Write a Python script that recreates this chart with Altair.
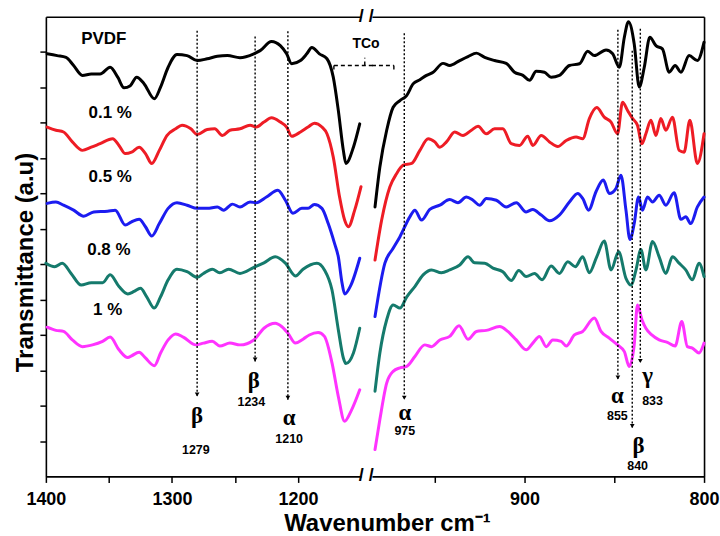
import altair as alt
import pandas as pd

# ---------------- data ----------------
series = ["PVDF", "0.1 %", "0.5 %", "0.8 %", "1 %"]
colors = ["#000000", "#ee1c25", "#1c1cf0", "#157a6c", "#ff33ff"]

# left segment (1400 - 1150 cm-1)
pvdf_l_wn = [1399, 1391, 1384, 1378, 1371, 1364, 1357, 1349, 1343, 1338, 1333, 1328, 1322, 1314, 1309, 1303, 1296, 1288, 1280, 1272, 1264, 1256, 1246, 1235, 1230, 1221, 1214, 1209, 1205, 1198, 1193, 1189, 1183, 1177, 1172, 1168, 1164, 1162, 1156, 1151]
pvdf_l_t = [11.95, 11.90, 11.85, 11.62, 11.34, 11.38, 11.38, 11.57, 11.29, 10.99, 11.05, 11.29, 11.10, 10.68, 11.01, 11.57, 11.93, 11.90, 11.76, 11.81, 11.88, 11.90, 11.84, 11.95, 12.04, 12.30, 12.18, 11.95, 11.67, 11.76, 11.95, 12.13, 11.95, 11.81, 11.29, 10.35, 9.22, 8.85, 9.31, 9.97]

p01_l_wn = [1399, 1392, 1386, 1379, 1371, 1364, 1357, 1347, 1342, 1337, 1332, 1326, 1321, 1316, 1310, 1304, 1297, 1292, 1285, 1280, 1272, 1266, 1260, 1254, 1246, 1238, 1233, 1227, 1221, 1214, 1209, 1205, 1198, 1192, 1187, 1181, 1177, 1172, 1167, 1163, 1160, 1155, 1150]
p01_l_t = [9.88, 9.79, 9.74, 9.46, 9.22, 9.31, 9.41, 9.55, 9.36, 9.13, 9.17, 9.31, 9.13, 8.85, 9.22, 9.64, 9.83, 9.93, 9.83, 9.67, 9.81, 9.83, 9.64, 9.79, 9.83, 9.93, 9.88, 10.02, 10.14, 10.02, 9.88, 9.62, 9.74, 9.88, 9.99, 9.88, 9.69, 9.03, 7.90, 7.25, 7.06, 7.53, 8.19]

p05_l_wn = [1399, 1392, 1386, 1378, 1370, 1362, 1351, 1345, 1337, 1332, 1326, 1321, 1316, 1310, 1303, 1296, 1288, 1280, 1272, 1264, 1259, 1252, 1246, 1238, 1233, 1225, 1216, 1210, 1204, 1197, 1192, 1187, 1181, 1176, 1171, 1168, 1165, 1163, 1158, 1151]
p05_l_t = [7.72, 7.76, 7.67, 7.53, 7.36, 7.48, 7.50, 7.53, 7.11, 7.20, 7.27, 7.06, 6.80, 7.15, 7.58, 7.74, 7.67, 7.58, 7.58, 7.62, 7.53, 7.70, 7.62, 7.76, 7.74, 7.90, 8.09, 7.81, 7.44, 7.58, 7.58, 7.69, 7.58, 7.15, 6.59, 6.21, 5.46, 5.16, 5.41, 6.17]

p08_l_wn = [1400, 1393, 1387, 1380, 1372, 1364, 1355, 1349, 1342, 1335, 1330, 1325, 1320, 1314, 1309, 1303, 1296, 1288, 1280, 1275, 1268, 1262, 1255, 1246, 1235, 1227, 1218, 1210, 1202, 1196, 1185, 1179, 1173, 1168, 1164, 1162, 1156, 1151]
p08_l_t = [6.03, 5.93, 6.03, 5.74, 5.41, 5.48, 5.48, 5.70, 5.37, 5.16, 5.23, 5.32, 5.08, 4.76, 5.08, 5.56, 5.86, 5.79, 5.63, 5.74, 5.86, 5.76, 5.86, 5.74, 5.91, 6.04, 6.21, 6.03, 5.67, 5.86, 6.03, 5.84, 5.27, 4.15, 3.35, 3.19, 3.49, 4.19]

p1_l_wn = [1399, 1392, 1386, 1379, 1371, 1363, 1355, 1349, 1342, 1335, 1332, 1326, 1321, 1314, 1309, 1303, 1297, 1291, 1281, 1275, 1268, 1262, 1254, 1246, 1235, 1227, 1218, 1213, 1208, 1202, 1196, 1191, 1184, 1179, 1173, 1168, 1163, 1158, 1151]
p1_l_t = [4.22, 4.13, 4.10, 3.86, 3.67, 3.72, 3.82, 3.94, 3.58, 3.36, 3.41, 3.51, 3.35, 3.13, 3.49, 3.86, 4.03, 3.94, 3.72, 3.77, 3.82, 3.69, 3.77, 3.72, 3.86, 4.19, 4.33, 4.24, 4.05, 3.77, 3.88, 4.00, 4.07, 3.96, 3.21, 2.26, 1.56, 1.84, 2.45]

# right segment (985 - 800 cm-1)
pvdf_r_wn = [983.3, 980.6, 976.8, 973.2, 969.4, 965.7, 962.1, 958.3, 954.6, 950.9, 945.4, 941.7, 936.1, 931.5, 926.8, 922.2, 916.7, 910.2, 905.6, 900.9, 897.2, 893.5, 888.9, 885.2, 880.6, 875.0, 869.4, 864.8, 861.1, 854.6, 850.9, 847.2, 844.4, 842.1, 838.9, 836.1, 833.3, 830.2, 826.8, 823.2, 819.4, 816.1, 812.9, 808.3, 803.7, 800.0]
pvdf_r_t = [7.62, 8.75, 9.79, 10.44, 10.63, 10.77, 11.10, 11.22, 11.34, 11.43, 11.68, 11.62, 11.76, 11.87, 11.97, 11.85, 11.76, 11.68, 11.43, 11.34, 11.20, 11.46, 11.43, 11.29, 11.34, 11.62, 11.67, 12.02, 11.90, 12.06, 11.95, 11.57, 12.42, 12.86, 12.23, 11.01, 11.57, 12.42, 12.18, 12.09, 11.43, 11.62, 11.43, 11.90, 11.76, 12.28]

p01_r_wn = [983.3, 979.6, 975.0, 971.3, 967.6, 962.9, 958.3, 953.7, 950.0, 947.2, 943.5, 938.9, 934.3, 929.6, 925.9, 921.3, 916.7, 912.1, 907.4, 902.8, 898.2, 895.4, 890.7, 886.1, 881.5, 876.8, 871.3, 867.6, 863.9, 859.8, 855.6, 851.8, 848.2, 845.4, 842.6, 839.8, 837.1, 834.6, 832.4, 829.6, 826.8, 824.1, 821.3, 817.6, 813.9, 811.1, 807.9, 803.7, 800.0]
p01_r_t = [6.12, 7.25, 8.19, 8.56, 8.80, 8.85, 9.22, 9.55, 9.46, 9.31, 9.46, 9.74, 9.64, 9.79, 9.90, 9.69, 9.83, 9.83, 9.41, 9.36, 9.62, 9.36, 9.64, 9.46, 9.33, 9.50, 9.60, 9.55, 10.12, 10.43, 10.16, 10.02, 9.69, 10.58, 10.35, 10.12, 9.93, 9.41, 9.69, 10.07, 9.64, 10.12, 9.79, 10.16, 9.22, 9.17, 10.07, 8.85, 9.69]

p05_r_wn = [983.3, 977.8, 973.2, 969.4, 963.9, 961.1, 957.4, 952.8, 947.2, 941.7, 937.1, 932.4, 928.7, 925.0, 921.3, 915.7, 910.2, 904.6, 899.1, 895.4, 890.7, 886.1, 880.6, 875.0, 870.4, 867.6, 864.3, 860.2, 856.1, 852.8, 849.1, 846.3, 843.5, 841.3, 838.9, 836.5, 834.3, 831.5, 828.7, 825.0, 821.3, 816.7, 812.9, 810.2, 807.4, 803.7, 800.0]
p05_r_t = [4.52, 6.03, 6.45, 6.78, 7.34, 7.53, 7.25, 7.55, 7.67, 7.83, 7.74, 7.90, 7.81, 7.67, 7.86, 7.81, 7.62, 7.74, 7.48, 7.55, 7.39, 7.23, 7.39, 7.76, 8.00, 7.86, 7.53, 8.05, 8.38, 8.00, 8.14, 8.52, 7.53, 6.70, 7.15, 7.90, 7.53, 7.90, 7.76, 7.95, 7.67, 8.02, 7.27, 7.34, 7.15, 7.62, 7.90]

p08_r_wn = [983.3, 980.6, 976.8, 973.2, 969.4, 965.7, 961.1, 956.5, 951.8, 946.3, 941.7, 936.1, 931.5, 927.8, 922.2, 917.6, 912.1, 907.4, 903.2, 899.1, 894.4, 890.2, 885.2, 880.6, 875.9, 871.7, 867.6, 863.9, 859.8, 855.6, 851.8, 847.6, 843.5, 840.7, 837.9, 835.2, 832.4, 828.7, 825.0, 821.3, 817.6, 813.9, 810.2, 806.5, 802.8, 800.0]
p08_r_t = [2.41, 3.49, 4.43, 4.85, 4.76, 5.07, 5.37, 5.70, 5.84, 5.76, 5.84, 5.98, 6.21, 6.04, 6.03, 5.89, 5.79, 5.54, 5.82, 5.65, 5.74, 5.56, 5.95, 5.74, 6.07, 5.93, 6.21, 5.76, 6.21, 6.66, 5.84, 6.35, 5.60, 5.41, 5.84, 6.42, 5.84, 6.64, 6.21, 5.74, 6.21, 6.03, 5.84, 5.56, 6.03, 5.65]

p1_r_wn = [983.3, 980.6, 976.8, 973.2, 969.4, 965.7, 961.1, 955.6, 951.8, 947.2, 941.7, 936.5, 931.5, 926.8, 921.3, 913.9, 909.3, 904.6, 899.1, 895.4, 891.7, 887.9, 884.3, 879.6, 876.8, 872.2, 867.6, 861.1, 857.4, 852.8, 848.2, 844.4, 841.7, 838.9, 837.1, 834.6, 832.4, 829.1, 825.0, 820.4, 816.1, 812.4, 809.3, 806.5, 802.8, 800.0]
p1_r_t = [0.76, 1.61, 2.64, 2.97, 3.07, 3.11, 3.39, 3.72, 3.67, 3.86, 3.96, 4.26, 3.88, 4.10, 4.13, 4.24, 4.10, 3.86, 3.58, 3.77, 3.96, 3.67, 3.86, 3.82, 3.69, 4.00, 4.10, 4.48, 4.10, 3.91, 3.72, 3.53, 3.11, 3.72, 4.85, 4.43, 4.19, 4.00, 3.86, 3.79, 3.69, 4.38, 3.67, 3.63, 3.49, 3.77]

# series labels
label_wn = [1354, 1349, 1349, 1350, 1351]
label_t = [12.38, 10.27, 8.46, 6.40, 4.71]

# peak markers (dotted arrows)
peak_side = ["L", "L", "L", "R", "R", "R", "R"]
peak_wn = [1280, 1234, 1208, 967, 848, 840, 835.5]
peak_top = [12.60, 12.44, 12.59, 12.53, 12.63, 12.04, 12.66]
peak_end = [2.26, 3.25, 2.17, 2.17, 2.74, 1.37, 3.21]
peak_phase = ["β", "β", "α", "α", "α", "β", "γ"]
phase_wn = [1280, 1235, 1207, 966.7, 848.3, 836.5, 831.5]
phase_t = [1.70, 2.69, 1.66, 1.80, 2.26, 0.85, 2.83]
peak_text = ["1279", "1234", "1210", "975", "855", "840", "833"]
num_wn = [1281, 1237, 1207, 966.7, 848.3, 837, 828.7]
num_t = [0.76, 2.10, 1.07, 1.28, 1.70, 0.29, 2.12]

# TCo bracket
tco_label = "TCo"
tco_wn = 1146
tco_t = 12.24
bracket_side = ["L", "L", "L", "R", "R"]
bracket_x1 = [1171.5, 1171.5, 1147, 985, 972.8]
bracket_x2 = [1140.7, 1171.5, 1147, 972.8, 972.8]
bracket_y1 = [11.62, 11.62, 11.62, 11.62, 11.62]
bracket_y2 = [11.62, 11.45, 11.84, 11.62, 11.45]

# axis break
break_wn = 1145.8
break_t = [13, 0]

# ---------------- tables ----------------
left_sets = [(pvdf_l_wn, pvdf_l_t), (p01_l_wn, p01_l_t), (p05_l_wn, p05_l_t), (p08_l_wn, p08_l_t), (p1_l_wn, p1_l_t)]
right_sets = [(pvdf_r_wn, pvdf_r_t), (p01_r_wn, p01_r_t), (p05_r_wn, p05_r_t), (p08_r_wn, p08_r_t), (p1_r_wn, p1_r_t)]


def to_df(sets):
    rows = []
    for s, (w, t) in zip(series, sets):
        for i, (a, b) in enumerate(zip(w, t)):
            rows.append({"series": s, "wn": a, "t": b, "i": i})
    return pd.DataFrame(rows)


dfL = to_df(left_sets)
dfR = to_df(right_sets)
labels_df = pd.DataFrame({"series": series, "wn": label_wn, "t": label_t})
peaks = pd.DataFrame({"side": peak_side, "wn": peak_wn, "top": peak_top, "end": peak_end,
                      "phase": peak_phase, "pwn": phase_wn, "pt": phase_t,
                      "num": peak_text, "nwn": num_wn, "nt": num_t})
bracket = pd.DataFrame({"side": bracket_side, "x1": bracket_x1, "x2": bracket_x2,
                        "y1": bracket_y1, "y2": bracket_y2})
tco_df = pd.DataFrame({"wn": [tco_wn], "t": [tco_t], "txt": [tco_label]})
break_df = pd.DataFrame({"wn": [break_wn] * 2, "t": break_t, "txt": ["/ /"] * 2})

SANS = "Liberation Sans"
SERIF = "Liberation Serif"

ys = alt.Scale(domain=[0, 13], nice=False, zero=False)
xsL = alt.Scale(domain=[1150, 1400], reverse=True, nice=False, zero=False)
xsR = alt.Scale(domain=[800, 985], reverse=True, nice=False, zero=False)

yaxisL = alt.Axis(values=list(range(1, 13)), labels=False, tickSize=6, tickWidth=1.5,
                  tickColor="black", domainColor="black", domainWidth=1.6, grid=False,
                  title="Transmittance (a.u)", titleFont=SANS, titleFontSize=24,
                  titleFontWeight="bold", titleColor="black", titleX=-20, titleY=246,
                  titleBaseline="middle", titleAngle=270, titleAlign="center")
yaxisR = alt.Axis(orient="right", labels=False, ticks=False, domainColor="black",
                  domainWidth=1.6, grid=False, title=None)

xbottom_common = dict(labelExpr="datum.value % 100 == 0 ? datum.value : ''",
                      tickSize=6, tickWidth=1.5, tickColor="black", domainColor="black",
                      domainWidth=1.6, labelFont=SANS, labelFontSize=18, labelFontWeight="bold",
                      labelColor="black", labelPadding=8, labelFlush=False, labelOverlap=False,
                      grid=False, title=None)
xaxisL = alt.Axis(values=[1400, 1350, 1300, 1250, 1200], **xbottom_common)
xaxisR = alt.Axis(values=[950, 900, 850, 800], **xbottom_common)
xtop = alt.Axis(orient="top", labels=False, ticks=False, domainColor="black", domainWidth=1.6,
                grid=False, title=None)


def panel(df, side, xs, xaxis, yaxis, width):
    lines = alt.Chart(df).mark_line(strokeWidth=3, interpolate="monotone",
                                    strokeJoin="round", strokeCap="round").encode(
        x=alt.X("wn:Q", scale=xs, axis=xaxis),
        y=alt.Y("t:Q", scale=ys, axis=yaxis),
        color=alt.Color("series:N", scale=alt.Scale(domain=series, range=colors), legend=None),
        order="i:Q",
    )
    pk = peaks[peaks.side == side]
    rules = alt.Chart(pk).mark_rule(color="black", strokeWidth=1.4, strokeDash=[2, 2]).encode(
        x=alt.X("wn:Q", scale=xs, axis=xtop), y=alt.Y("top:Q", scale=ys, axis=yaxis), y2="end:Q")
    heads = alt.Chart(pk).mark_point(shape="triangle-down", filled=True, size=22, color="black",
                                     opacity=1, yOffset=-2).encode(
        x=alt.X("wn:Q", scale=xs, axis=None), y=alt.Y("end:Q", scale=ys, axis=yaxis))
    greek = alt.Chart(pk).mark_text(font=SERIF, fontSize=23, fontWeight="bold", color="black",
                                    baseline="middle").encode(
        x=alt.X("pwn:Q", scale=xs, axis=None), y=alt.Y("pt:Q", scale=ys, axis=yaxis), text="phase:N")
    nums = alt.Chart(pk).mark_text(font=SANS, fontSize=12.5, fontWeight="bold", color="black",
                                   baseline="middle").encode(
        x=alt.X("nwn:Q", scale=xs, axis=None), y=alt.Y("nt:Q", scale=ys, axis=yaxis), text="num:N")
    br = bracket[bracket.side == side]
    brk = alt.Chart(br).mark_rule(color="black", strokeWidth=1.4, strokeDash=[4, 3]).encode(
        x=alt.X("x1:Q", scale=xs, axis=None), x2="x2:Q",
        y=alt.Y("y1:Q", scale=ys, axis=yaxis), y2="y2:Q")
    layers = [lines, rules, heads, greek, nums, brk]
    if side == "L":
        lab = alt.Chart(labels_df).mark_text(font=SANS, fontSize=17, fontWeight="bold",
                                             color="black", baseline="middle").encode(
            x=alt.X("wn:Q", scale=xs, axis=None), y=alt.Y("t:Q", scale=ys, axis=yaxis),
            text="series:N")
        tco = alt.Chart(tco_df).mark_text(font=SANS, fontSize=14, fontWeight="bold",
                                          color="black", baseline="middle").encode(
            x=alt.X("wn:Q", scale=xs, axis=None), y=alt.Y("t:Q", scale=ys, axis=yaxis), text="txt:N")
        brkmark = alt.Chart(break_df).mark_text(font=SANS, fontSize=18, fontWeight="bold",
                                                color="black", baseline="middle").encode(
            x=alt.X("wn:Q", scale=xs, axis=None), y=alt.Y("t:Q", scale=ys, axis=yaxis), text="txt:N")
        layers += [lab, tco, brkmark]
    return alt.layer(*layers).resolve_axis(x="independent").properties(width=width, height=461)


left = panel(dfL, "L", xsL, xaxisL, yaxisL, 316)
right = panel(dfR, "R", xsR, xaxisR, yaxisR, 333)

chart = alt.hconcat(left, right, spacing=11, bounds="flush").properties(
    title=alt.TitleParams("Wavenumber cm⁻¹", orient="bottom", anchor="middle", fontSize=24,
                          fontWeight="bold", font=SANS, color="black", dx=21, offset=4),
    padding={"left": 13, "top": 7, "right": 0, "bottom": 0},
    background="white",
).configure_view(stroke=None)

chart.save("out.html", embed_options={"renderer": "svg", "actions": False})
